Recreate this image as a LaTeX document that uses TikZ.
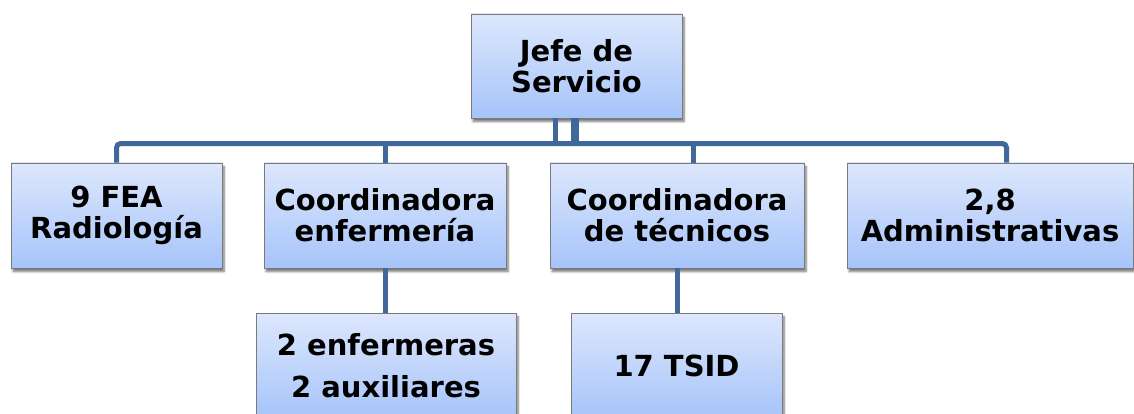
\documentclass[tikz,border=0pt]{standalone}
\usepackage{fontspec}
\setmainfont{DejaVu Sans}
\usetikzlibrary{shadows.blur}

\definecolor{boxtop}{HTML}{DDE7FC}
\definecolor{boxbottom}{HTML}{A6C4FA}
\definecolor{boxedge}{HTML}{7A7A7A}
\definecolor{linkblue}{HTML}{41689A}

\tikzset{
  every unit/.style={
    rectangle,
    draw=boxedge,
    line width=0.8pt,
    top color=boxtop,
    bottom color=boxbottom,
    blur shadow={shadow xshift=2pt, shadow yshift=-3.5pt, shadow blur steps=6, shadow opacity=55},
    minimum height=105pt,
    inner sep=0pt,
    align=center,
    font=\fontsize{29}{31}\selectfont\bfseries
  },
  link/.style={
    draw=linkblue,
    line width=5pt
  },
}

\begin{document}
\begin{tikzpicture}[x=1pt, y=-1pt]
  \useasboundingbox (0,0) rectangle (1134,414);

  % top
  \node [every unit, minimum width=211pt, minimum height=104pt] (jefe) at (576.5,66) {Jefe de\\Servicio};

  % second row
  \node [every unit, minimum width=211pt] (fea) at (116.5,215.5) {9 FEA\\Radiología};
  \node [every unit, minimum width=242pt] (enf) at (385,215.5) {Coordinadora\\enfermería};
  \node [every unit, minimum width=254pt] (tec) at (677,215.5) {Coordinadora\\de técnicos};
  \node [every unit, minimum width=286pt] (adm) at (990,215.5) {2,8\\Administrativas};

  % third row
  \node [every unit, minimum width=260pt, font=\fontsize{29}{42}\selectfont\bfseries] (aux) at (386,365.5) {2 enfermeras\\2 auxiliares};
  \node [every unit, minimum width=211pt] (tsid) at (676.5,365.5) {17 TSID};

  % links
  \draw [link] ([xshift=-21pt]jefe.south) -- ++(0,26);
  \draw [link, line width=8pt] ([xshift=-1.5pt]jefe.south) -- ++(0,26);
  \draw [link, rounded corners=4pt] (fea.north) -- ++(0,-19) -| ([xshift=16.5pt]adm.north);
  \draw [link] (enf.north) -- ++(0,-19);
  \draw [link] ([xshift=16.5pt]tec.north) -- ++(0,-19);
  \draw [link] (enf.south) -- (enf.south |- aux.north);
  \draw [link] (tec.south) -- (tec.south |- tsid.north);

\end{tikzpicture}
\end{document}
